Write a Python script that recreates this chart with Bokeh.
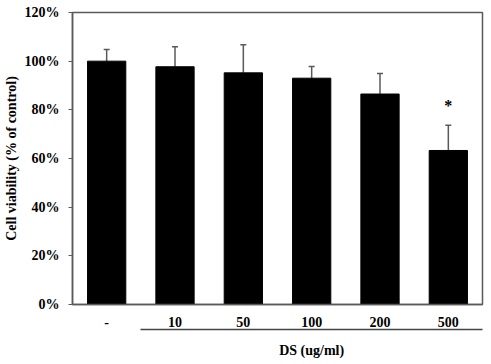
from bokeh.plotting import figure
from bokeh.models import (ColumnDataSource, FixedTicker, PrintfTickFormatter, Range1d,
                          LinearAxis, Whisker)
from bokeh.core.properties import value
from bokeh.embed import file_html
from bokeh.resources import INLINE

# ---- data ----
doses = ["-", "10", "50", "100", "200", "500"]
viability = [100.0, 97.7, 95.2, 93.0, 86.5, 63.3]
sd = [4.8, 8.2, 11.5, 4.8, 8.4, 10.4]
significant = ["", "", "", "", "", "*"]
y_ticks = [0, 20, 40, 60, 80, 100, 120]
x_title = "DS (ug/ml)"
y_title = "Cell viability (% of control)"

FONT = "Liberation Serif"
AX = "#5a5a5a"

upper = [v + e for v, e in zip(viability, sd)]
src = ColumnDataSource(dict(dose=doses, v=viability, up=upper))
star_idx = [i for i, s in enumerate(significant) if s]
star_src = ColumnDataSource(dict(dose=[doses[i] for i in star_idx],
                                 y=[upper[i] + 8 for i in star_idx],
                                 t=[significant[i] for i in star_idx]))

p = figure(x_range=doses, y_range=Range1d(0, 120), width=491, height=364,
           output_backend="svg", toolbar_location=None,
           min_border_left=71, min_border_right=9, min_border_top=12, min_border_bottom=60)
p.outline_line_color = AX
p.outline_line_width = 1.5
p.xgrid.visible = False
p.ygrid.visible = False

p.vbar(x="dose", top="v", width=0.56, source=src, fill_color="black", line_color="black")
w = Whisker(base="dose", lower="v", upper="up", source=src, line_color=AX, line_width=1.5,
            lower_head=None)
w.upper_head.line_color = AX
w.upper_head.line_width = 1.5
w.upper_head.size = 6
p.add_layout(w)

p.text(x="dose", y="y", text="t", source=star_src, text_align="center",
       text_baseline="middle", text_font=value(FONT), text_font_style="bold",
       text_font_size="16px", text_color="black")

# y axis
ya = p.yaxis[0]
ya.ticker = FixedTicker(ticks=y_ticks)
ya.formatter = PrintfTickFormatter(format="%d%%")
ya.minor_tick_line_color = None
ya.major_tick_in = 0
ya.major_tick_out = 4
ya.major_tick_line_color = AX
ya.axis_line_color = AX
ya.axis_line_width = 1.5
ya.major_label_standoff = 9
ya.major_label_text_font = FONT
ya.major_label_text_font_style = "bold"
ya.major_label_text_font_size = "14px"
ya.major_label_text_color = "black"
ya.axis_label = y_title
ya.axis_label_text_font = FONT
ya.axis_label_text_font_style = "bold"
ya.axis_label_text_font_size = "14px"
ya.axis_label_text_color = "black"
ya.axis_label_standoff = 3

# x axis
xa = p.xaxis[0]
xa.major_tick_line_color = None
xa.minor_tick_line_color = None
xa.major_tick_out = 0
xa.major_tick_in = 0
xa.axis_line_color = AX
xa.axis_line_width = 1.5
xa.major_label_standoff = 12
xa.major_label_text_font = FONT
xa.major_label_text_font_style = "bold"
xa.major_label_text_font_size = "14px"
xa.major_label_text_color = "black"

# bracket line under the treated doses, titled in its middle
n = len(doses)
mid = (1 + n) / 2
bracket = LinearAxis(ticker=FixedTicker(ticks=[mid]), bounds=(1, n),
                     major_label_overrides={mid: x_title},
                     axis_line_color="#444444", axis_line_width=1.5,
                     major_tick_line_color=None, minor_tick_line_color=None,
                     major_tick_out=0, major_tick_in=0, major_label_standoff=13,
                     major_label_text_font=FONT, major_label_text_font_style="bold",
                     major_label_text_font_size="14px", major_label_text_color="black")
p.add_layout(bracket, "below")

open("out.html", "w").write(file_html(p, INLINE))
